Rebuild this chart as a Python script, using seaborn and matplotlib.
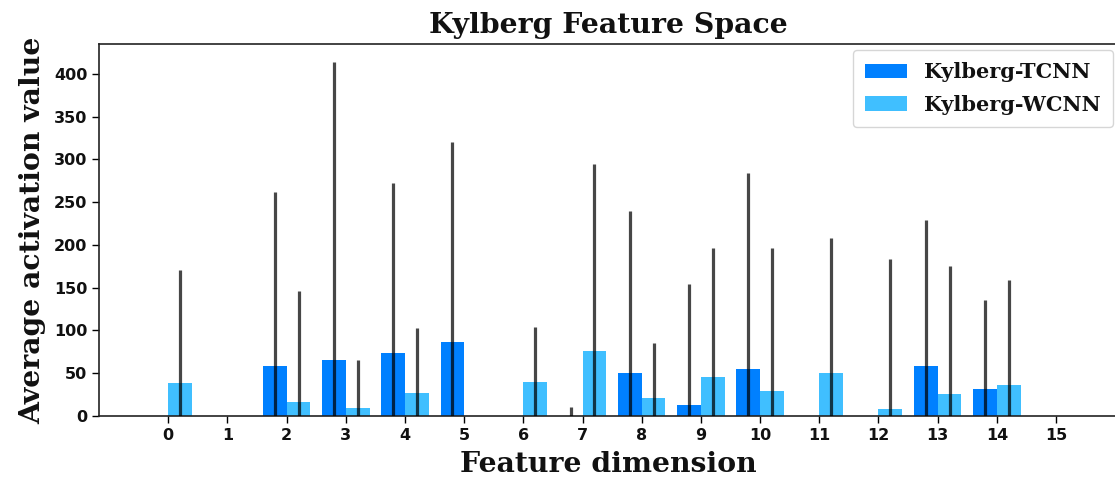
import matplotlib
matplotlib.use("Agg")
import matplotlib.pyplot as plt
import seaborn as sns
import numpy as np
import pandas as pd

features = list(range(16))
tcnn_mean = [0, 0, 58.8, 65.1, 73.3, 86.2, 0, 0.5, 50.3, 12.9, 54.6, 0, 0, 58.8, 32.0, 0]
tcnn_err = [0, 0, 203.5, 349.3, 199.6, 234.6, 0, 10.4, 189.9, 141.9, 229.2, 0, 0, 170.8, 104.0, 0]
wcnn_mean = [38.2, 0, 16.8, 9.0, 27.3, 0, 39.8, 75.6, 21.4, 46.0, 29.6, 50.3, 8.6, 25.3, 35.9, 0]
wcnn_err = [132.8, 0, 129.4, 56.1, 75.3, 0, 64.7, 218.8, 64.3, 150.1, 166.5, 158.3, 175.0, 150.1, 122.8, 0]
series = ["Kylberg-TCNN", "Kylberg-WCNN"]
colors = ["#0080FF", "#40BFFF"]

sns.set_style("ticks")
plt.rcParams["font.family"] = ["DejaVu Sans"]
plt.rcParams.update({"text.color": "black", "axes.labelcolor": "black",
                     "xtick.color": "black", "ytick.color": "black",
                     "axes.edgecolor": "#222222"})

df = pd.DataFrame({
    "feature": features * 2,
    "value": tcnn_mean + wcnn_mean,
    "series": [series[0]] * 16 + [series[1]] * 16,
})

fig = plt.figure(figsize=(11.15, 4.79), dpi=100)
ax = fig.add_axes([99.3 / 1115, 1 - 416 / 479, (1117 - 99.3) / 1115, (416 - 44) / 479])

sns.barplot(data=df, x="feature", y="value", hue="series", palette=colors,
            errorbar=None, width=0.8, ax=ax, saturation=1, linewidth=0)

# error bars at bar centres
errs = [tcnn_err, wcnn_err]
means = [tcnn_mean, wcnn_mean]
bar_conts = list(ax.containers)
for k, cont in enumerate(bar_conts):
    xs, ys, es = [], [], []
    for i, p in enumerate(cont.patches):
        if errs[k][i] > 0:
            xs.append(p.get_x() + p.get_width() / 2)
            ys.append(means[k][i])
            es.append(errs[k][i])
    ax.errorbar(xs, ys, yerr=es, fmt="none", ecolor="black", elinewidth=2.3,
                alpha=0.72, capsize=0, zorder=3)

ax.set_xlim(-1.166, 16.03)
ax.set_ylim(0, 435)
ax.set_yticks([0, 50, 100, 150, 200, 250, 300, 350, 400])
ax.set_xticks(range(16))
ax.set_xticklabels([str(f) for f in features])
for lab in ax.get_xticklabels() + ax.get_yticklabels():
    lab.set_fontweight("bold")
    lab.set_fontsize(11.5)
    lab.set_color("#111111")
ax.tick_params(length=5, width=1)

serif = {"family": "DejaVu Serif", "weight": "bold", "color": "#111111"}
ax.set_title("Kylberg Feature Space", fontdict=dict(serif, size=20.4), pad=8)
ax.set_xlabel("Feature dimension", fontdict=dict(serif, size=20.3), labelpad=6)
ax.set_ylabel("Average activation value", fontdict=dict(serif, size=20.3), labelpad=6)

for s in ax.spines.values():
    s.set_linewidth(1.2)

leg = ax.legend(loc="upper right", prop={"family": "DejaVu Serif", "weight": "bold", "size": 15},
                frameon=True, bbox_to_anchor=(0.9961, 0.984), borderaxespad=0,
                labelspacing=0.6, handlelength=2.0, borderpad=0.6)
leg.set_title(None)
for t in leg.get_texts():
    t.set_color("#111111")

fig.savefig("out.png", dpi=100)
